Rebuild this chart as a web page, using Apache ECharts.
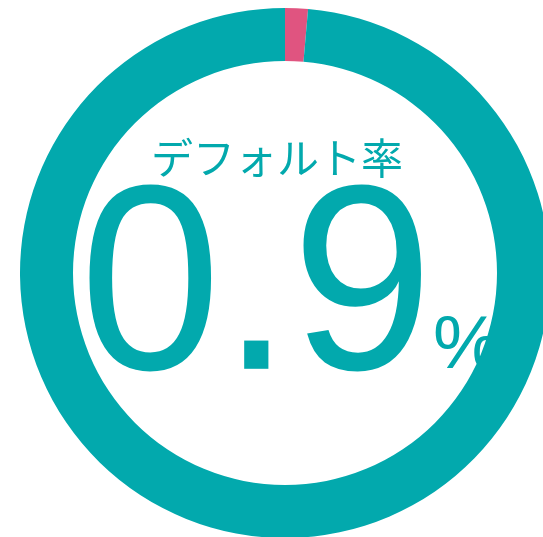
<!DOCTYPE html>
<html>
<head>
<meta charset="utf-8">
<script src="https://cdn.jsdelivr.net/npm/echarts@6/dist/echarts.min.js"></script>
<style>html,body{margin:0;padding:0;background:#fff}#c{width:543px;height:537px}</style>
</head>
<body>
<div id="c"></div>
<script>
var categories = ['デフォルト', 'その他'];
var values = [0.9, 99.1];
var colors = ['#E05480', '#02A9AD'];
var titleText = 'デフォルト率';
var rateText = '0.9';
var unitText = '%';

var chart = echarts.init(document.getElementById('c'), null, {renderer: 'canvas'});
var teal = '#02A9AD';
chart.setOption({
  animation: false,
  backgroundColor: '#fff',
  graphic: [
    {type: 'text', x: 277, y: 158, z: 0, style: {text: titleText, align: 'center', verticalAlign: 'middle', font: '42px "Noto Sans CJK JP"', fill: teal}},
    {type: 'text', x: 433, y: 296, scaleX: 0.963, z: 0, style: {text: rateText, align: 'right', verticalAlign: 'middle', font: '264px "Liberation Sans"', fill: teal}},
    {type: 'text', x: 433, y: 347, z: 0, style: {text: unitText, align: 'left', verticalAlign: 'middle', font: '76px "Liberation Sans"', fill: teal}}
  ],
  series: [{
    type: 'pie',
    z: 5,
    silent: true,
    center: [285, 273],
    radius: [212, 265],
    startAngle: 90,
    clockwise: true,
    minAngle: 5,
    avoidLabelOverlap: false,
    label: {show: false},
    labelLine: {show: false},
    emphasis: {disabled: true},
    itemStyle: {borderWidth: 0},
    data: categories.map(function (c, i) {
      return {name: c, value: values[i], itemStyle: {color: colors[i]}};
    })
  }]
});
</script>
</body>
</html>
